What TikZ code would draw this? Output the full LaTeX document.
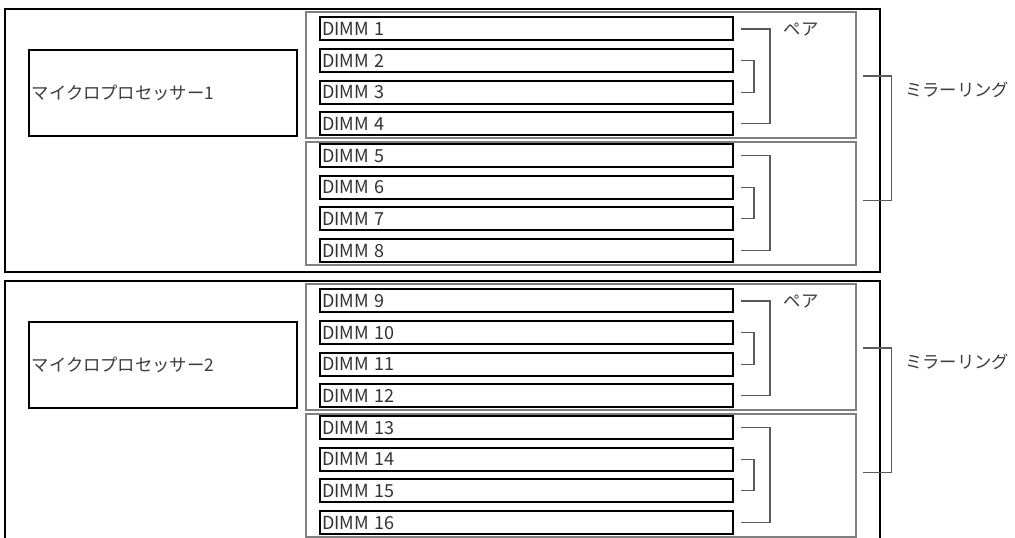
\documentclass[tikz,border=0pt]{standalone}
\usepackage{fontspec}
\setmainfont{Noto Sans CJK JP}
\usetikzlibrary{calc}
\definecolor{grp}{RGB}{128,128,128}
\definecolor{brkc}{RGB}{90,90,90}
\definecolor{txt}{RGB}{60,60,60}
\tikzset{
  outerbox/.style={draw=black, line width=1.5pt, minimum width=656.25pt, minimum height=197.25pt, inner sep=0pt},
  cpubox/.style={draw=black, line width=1.2pt, minimum width=201pt, minimum height=64.5pt, inner xsep=2pt, text width=197pt, align=left, font=\fontsize{13}{15}\selectfont, text=txt},
  grpbox/.style={draw=grp, line width=0.8pt, minimum width=412.5pt, minimum height=94.5pt, inner sep=0pt},
  dimmbox/.style={draw=black, line width=1.5pt, minimum width=309.75pt, minimum height=17.25pt, inner xsep=1.5pt, inner ysep=0pt, text width=306.75pt, align=left, font=\fontsize{13.5}{14}\selectfont, text=black!80},
  brk/.style={draw=brkc, line width=0.8pt},
  jp/.style={font=\fontsize{13}{15}\selectfont, text=txt, inner sep=0pt}
}
\begin{document}
\begin{tikzpicture}[x=0.75pt,y=-0.75pt]
\useasboundingbox (0,0) rectangle (1015,538);
\clip (0,0) rectangle (1015,538);
\fill[white] (0,0) rectangle (1015,538);
\foreach \b/\oy in {1/0,2/272}{
  \node[outerbox] (o\b) at (442.5,{140.5+\oy}) {};
  \node[cpubox] (p\b) at (163,{93+\oy}) {マイクロプロセッサー\b};
  \node[grpbox] (ga\b) at (581,{75+\oy}) {};
  \node[grpbox, minimum height=92.25pt] (gb\b) at (581,{203.5+\oy}) {};
  \foreach \i in {1,...,8}{
    \pgfmathtruncatemacro\n{8*(\b-1)+\i}
    \node[dimmbox] (d\n) at (526.5,{29+31.65*(\i-1)+\oy}) {DIMM \n};
  }
  \pgfmathtruncatemacro\ka{8*\b-7}
  \pgfmathtruncatemacro\kb{8*\b-6}
  \pgfmathtruncatemacro\kc{8*\b-5}
  \pgfmathtruncatemacro\kd{8*\b-4}
  \pgfmathtruncatemacro\ke{8*\b-3}
  \pgfmathtruncatemacro\kf{8*\b-2}
  \pgfmathtruncatemacro\kg{8*\b-1}
  \pgfmathtruncatemacro\kh{8*\b}
  \draw[brk] ($(d\ka.east)+(7,0)$) -- ++(29,0) |- ($(d\kd.east)+(7,0)$);
  \draw[brk] ($(d\kb.east)+(7,0)$) -- ++(13,0) |- ($(d\kc.east)+(7,0)$);
  \draw[brk] ($(d\ke.east)+(7,0)$) -- ++(29,0) |- ($(d\kh.east)+(7,0)$);
  \draw[brk] ($(d\kf.east)+(7,0)$) -- ++(13,0) |- ($(d\kg.east)+(7,0)$);
  \draw[brk] ($(ga\b.east)+(6,1)$) -- ++(29,0) |- ($(gb\b.east)+(6,-3)$);
  \node[jp] (pa\b) at (801,{30+\oy}) {ペア};
  \node[jp, anchor=west] (mr\b) at (905,{90+\oy}) {ミラーリング};
}
\end{tikzpicture}
\end{document}
